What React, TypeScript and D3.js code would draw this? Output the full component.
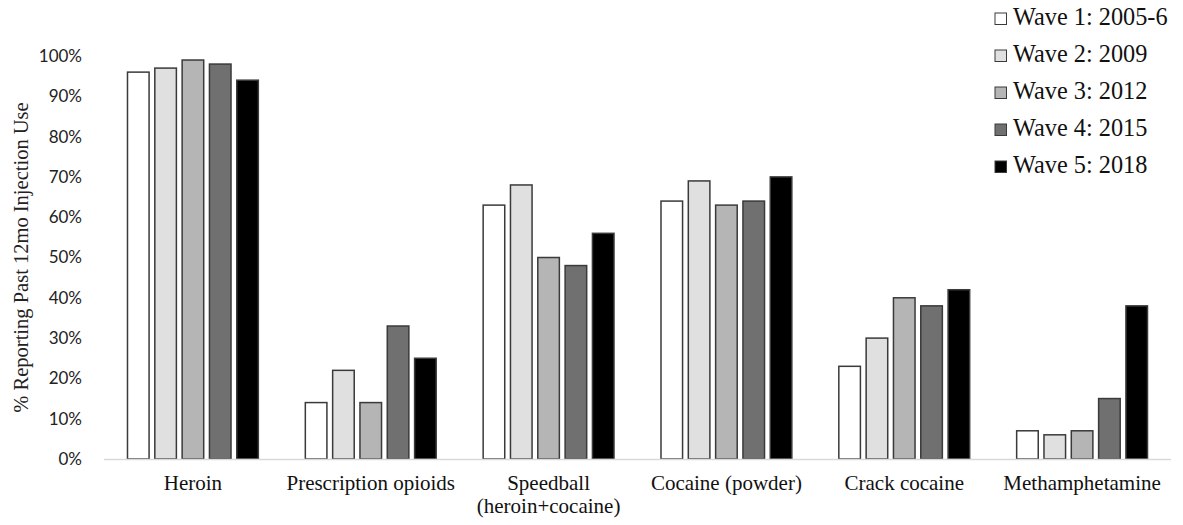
import React from "react";
import * as d3 from "d3";

const categories = [
  ["Heroin"],
  ["Prescription opioids"],
  ["Speedball", "(heroin+cocaine)"],
  ["Cocaine (powder)"],
  ["Crack cocaine"],
  ["Methamphetamine"],
];
const waves = ["Wave 1: 2005-6", "Wave 2: 2009", "Wave 3: 2012", "Wave 4: 2015", "Wave 5: 2018"];
const wave1 = [96, 14, 63, 64, 23, 7];
const wave2 = [97, 22, 68, 69, 30, 6];
const wave3 = [99, 14, 50, 63, 40, 7];
const wave4 = [98, 33, 48, 64, 38, 15];
const wave5 = [94, 25, 56, 70, 42, 38];
const series = [wave1, wave2, wave3, wave4, wave5];
const fills = ["#ffffff", "#e0e0e0", "#b5b5b5", "#707070", "#000000"];
const yTicks = [0, 10, 20, 30, 40, 50, 60, 70, 80, 90, 100];
const yTitle = "% Reporting Past 12mo Injection Use";

export default function App() {
  const W = 1183, H = 525;
  const left = 104, right = 1171, top = 56, bottom = 459;
  const catKeys = categories.map((c) => c.join(" "));
  const x0 = d3.scaleBand<string>().domain(catKeys).range([left, right]).paddingInner(0).paddingOuter(0);
  const x1 = d3.scaleBand<string>().domain(waves).range([0, x0.bandwidth()]).paddingInner(0.21).paddingOuter(0.86);
  const y = d3.scaleLinear().domain([0, 100]).range([bottom, top]);
  const serif = "'Liberation Serif', 'Times New Roman', serif";
  const sans = "Lato, 'Open Sans', sans-serif";

  return (
    <svg width={W} height={H} style={{ position: "absolute", left: 0, top: 0, background: "#fff" }}>
      <text
        transform={`translate(28,${(top + bottom) / 2}) rotate(-90)`}
        textAnchor="middle"
        fontFamily={serif}
        fontSize={20.5}
        fill="#222"
      >
        {yTitle}
      </text>
      {yTicks.map((t) => (
        <text key={t} x={82} y={y(t)} dy="0.35em" textAnchor="end" fontFamily={sans} fontSize={17} fill="#222">
          {t}%
        </text>
      ))}
      {categories.map((cat, ci) => (
        <g key={ci} transform={`translate(${x0(catKeys[ci])},0)`}>
          {series.map((s, si) => (
            <rect
              key={si}
              x={x1(waves[si])}
              y={y(s[ci])}
              width={x1.bandwidth()}
              height={y(0) - y(s[ci])}
              fill={fills[si]}
              stroke="#3a3a3a"
              strokeWidth={1.5}
            />
          ))}
          {cat.map((line, li) => (
            <text
              key={li}
              x={x0.bandwidth() / 2}
              y={490 + li * 23}
              textAnchor="middle"
              fontFamily={serif}
              fontSize={21}
              fill="#111"
            >
              {line}
            </text>
          ))}
        </g>
      ))}
      <line x1={left} x2={right} y1={bottom + 0.5} y2={bottom + 0.5} stroke="#d9d9d9" strokeWidth={1.5} />
      {waves.map((w, i) => (
        <g key={w} transform={`translate(0,${25 + i * 37})`}>
          <rect x={995} y={-12} width={11.5} height={11.5} fill={fills[i]} stroke="#3a3a3a" strokeWidth={1} />
          <text x={1013} y={0} fontFamily={serif} fontSize={24.3} fill="#111">
            {w}
          </text>
        </g>
      ))}
    </svg>
  );
}
